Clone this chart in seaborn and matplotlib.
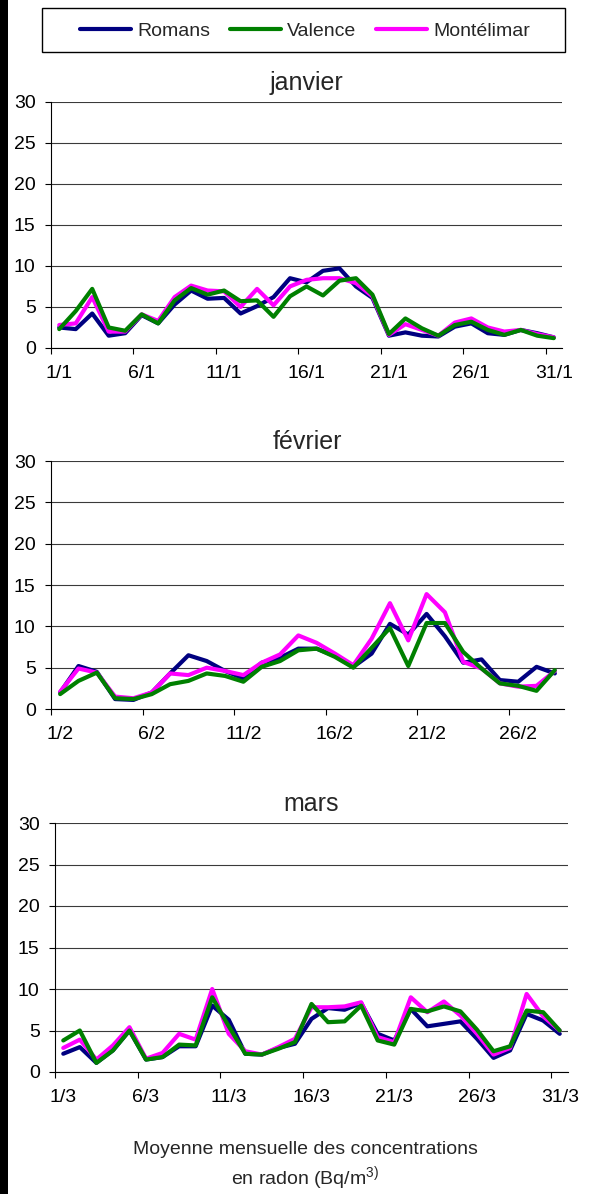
import matplotlib
matplotlib.use("Agg")
import matplotlib.pyplot as plt
from matplotlib.patches import Rectangle
import seaborn as sns
import pandas as pd
import numpy as np

# ---------------- data ----------------
series_names = ["Romans", "Valence", "Montélimar"]
series_colors = {"Romans": "#000080", "Valence": "#008000", "Montélimar": "#FF00FF"}
draw_order = ["Romans", "Montélimar", "Valence"]

jan_romans = [2.5, 2.3, 4.2, 1.5, 1.8, 4.0, 3.0, 5.3, 7.0, 6.0, 6.1, 4.2, 5.1, 6.2, 8.5, 8.0,
              9.4, 9.7, 7.5, 6.1, 1.5, 1.9, 1.5, 1.4, 2.6, 3.0, 1.8, 1.6, 2.2, 1.8, 1.3]
jan_valence = [2.3, 4.5, 7.2, 2.5, 2.1, 4.1, 3.0, 5.8, 7.3, 6.5, 7.0, 5.7, 5.8, 3.8, 6.3, 7.5,
               6.4, 8.2, 8.5, 6.5, 1.7, 3.6, 2.4, 1.5, 2.8, 3.2, 2.2, 1.6, 2.2, 1.5, 1.2]
jan_montelimar = [2.8, 3.0, 6.2, 2.0, 2.0, 4.1, 3.3, 6.2, 7.6, 7.0, 6.9, 5.0, 7.2, 5.2, 7.5, 8.3,
                  8.5, 8.5, 7.9, 6.3, 1.6, 2.9, 2.2, 1.5, 3.1, 3.6, 2.5, 2.0, 2.2, 1.7, 1.3]

feb_romans = [2.0, 5.2, 4.5, 1.2, 1.1, 2.0, 4.3, 6.5, 5.8, 4.6, 3.7, 5.6, 6.2, 7.3, 7.3, 6.4,
              5.1, 6.7, 10.3, 9.0, 11.5, 8.8, 5.6, 6.0, 3.5, 3.3, 5.1, 4.3]
feb_valence = [1.8, 3.4, 4.4, 1.3, 1.2, 1.8, 3.0, 3.4, 4.3, 4.0, 3.3, 5.1, 5.8, 7.1, 7.3, 6.3,
               5.0, 7.4, 9.8, 5.2, 10.4, 10.4, 6.9, 4.9, 3.1, 2.8, 2.2, 4.7]
feb_montelimar = [2.1, 4.9, 4.4, 1.5, 1.3, 2.0, 4.3, 4.1, 5.0, 4.6, 4.1, 5.6, 6.6, 8.9, 8.0, 6.7,
                  5.3, 8.5, 12.8, 8.3, 13.9, 11.7, 5.7, 4.9, 3.1, 2.7, 2.8, 4.6]

mar_romans = [2.2, 3.0, 1.1, 2.6, 5.0, 1.5, 1.8, 3.1, 3.1, 8.0, 6.3, 2.2, 2.1, 2.9, 3.4, 6.4,
              7.7, 7.5, 8.3, 4.6, 3.8, 7.6, 5.5, 5.8, 6.1, 4.0, 1.7, 2.6, 7.0, 6.2, 4.6]
mar_valence = [3.8, 5.0, 1.1, 2.6, 5.0, 1.5, 1.8, 3.3, 3.2, 9.0, 5.5, 2.2, 2.1, 2.8, 3.6, 8.2,
               6.0, 6.1, 8.0, 3.8, 3.3, 7.6, 7.3, 7.9, 7.3, 5.1, 2.5, 3.1, 7.4, 7.2, 5.0]
mar_montelimar = [2.9, 3.9, 1.5, 3.2, 5.4, 1.6, 2.3, 4.6, 3.9, 10.0, 4.6, 2.5, 2.1, 3.0, 4.0, 7.8,
                  7.8, 7.9, 8.4, 4.2, 3.6, 9.0, 7.2, 8.5, 6.8, 4.6, 2.1, 2.9, 9.4, 6.7, 5.0]

month_titles = ["janvier", "février", "mars"]
month_nums = [1, 2, 3]
month_values = [
    {"Romans": jan_romans, "Valence": jan_valence, "Montélimar": jan_montelimar},
    {"Romans": feb_romans, "Valence": feb_valence, "Montélimar": feb_montelimar},
    {"Romans": mar_romans, "Valence": mar_valence, "Montélimar": mar_montelimar},
]
y_ticks = [0, 5, 10, 15, 20, 25, 30]

# ---------------- style ----------------
sns.set_theme(style="white")
plt.rcParams["font.family"] = ["Liberation Sans", "DejaVu Sans"]
plt.rcParams["mathtext.fontset"] = "custom"
plt.rcParams["mathtext.rm"] = "Liberation Sans"
plt.rcParams["mathtext.it"] = "Liberation Sans"

W, H = 592, 1194
fig = plt.figure(figsize=(W / 100, H / 100), dpi=100)
fig.patch.set_facecolor("white")

# axes boxes in pixels: (left, right, top, bottom)
boxes = [(51, 562, 101.7, 348), (51, 564, 461, 709), (55, 568, 823, 1072)]

first_ax = None
for (l, r, t, b), title, mnum, vals in zip(boxes, month_titles, month_nums, month_values):
    ax = fig.add_axes([l / W, 1 - b / H, (r - l) / W, (b - t) / H])
    n = len(vals["Romans"])
    days = np.arange(1, n + 1)
    for z, name in enumerate(draw_order):
        df = pd.DataFrame({"day": days, "val": vals[name]})
        sns.lineplot(data=df, x="day", y="val", ax=ax, color=series_colors[name],
                     lw=3.0, label=name, zorder=3 + z, legend=False)
    ax.set_xlim(0.5, n + 0.5)
    ax.set_ylim(0, 30)
    ax.set_xlabel("")
    ax.set_ylabel("")
    ax.set_title(title, fontsize=18, pad=8.5)
    # boundary ticks (major, no labels) and centred labels (minor)
    centers = list(range(1, n + 1, 5))
    bounds = [c - 0.5 for c in centers]
    ax.set_xticks(bounds)
    ax.set_xticks(centers, minor=True)
    ax.set_xticklabels([f"{c}/{mnum}" for c in centers], minor=True)
    ax.tick_params(axis="x", which="major", bottom=True, length=4.5, width=0.8,
                   direction="out", color="black", labelbottom=False)
    ax.tick_params(axis="x", which="minor", bottom=True, length=0, pad=12,
                   labelsize=14, labelcolor="black")
    ax.set_yticks(y_ticks)
    ax.tick_params(axis="y", left=True, length=4.5, width=0.8, direction="out",
                   color="black", pad=6.5, labelsize=14, labelcolor="black")
    ax.yaxis.grid(True, color="#3a3a3a", lw=0.8)
    ax.xaxis.grid(False)
    ax.set_axisbelow(True)
    for s in ["top", "right"]:
        ax.spines[s].set_visible(False)
    for s in ["left", "bottom"]:
        ax.spines[s].set_color("black")
        ax.spines[s].set_linewidth(0.8)
    ax.set_facecolor("white")
    if first_ax is None:
        first_ax = ax

# legend
handles, labels = first_ax.get_legend_handles_labels()
hmap = dict(zip(labels, handles))
fig.legend([hmap[nm] for nm in series_names], series_names, loc="center",
           bbox_to_anchor=(305 / W, 1 - 31 / H), ncol=3, frameon=False, fontsize=14,
           handlelength=2.65, handletextpad=0.3, columnspacing=1.0)
fig.patches.append(Rectangle((42 / W, 1 - 52 / H), 523 / W, 44 / H, transform=fig.transFigure,
                             fill=False, edgecolor="black", lw=1.0))
# black bar on the left edge
fig.patches.append(Rectangle((0, 0), 8 / W, 1, transform=fig.transFigure,
                             facecolor="black", edgecolor="none"))

# bottom caption
fig.text(305 / W, 1 - 1150 / H, "Moyenne mensuelle des concentrations", ha="center",
         va="center", fontsize=14)
fig.text(305 / W, 1 - 1178 / H, r"en radon (Bq/m$^{\mathrm{3)}}$", ha="center",
         va="center", fontsize=14)

fig.savefig("out.png", dpi=100)
